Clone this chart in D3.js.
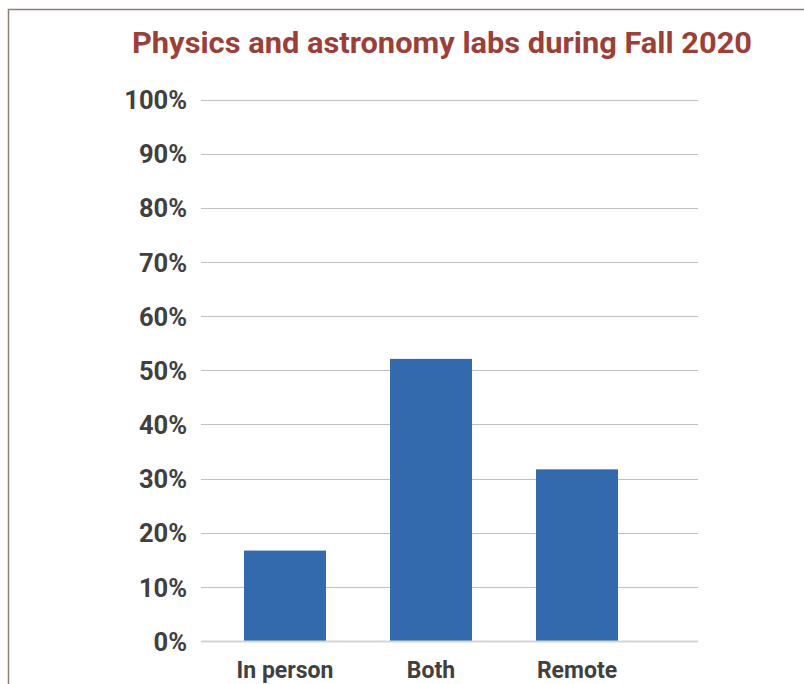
<!DOCTYPE html>
<html>
<head>
<meta charset="utf-8">
<script src="https://cdn.jsdelivr.net/npm/d3@7"></script>
<style>
  html, body { margin: 0; padding: 0; background: #fff; }
  svg { display: block; }
</style>
</head>
<body>
<svg id="chart" width="804" height="684"></svg>
<script>
// Lab delivery mode shares, Fall 2020
const categories = ["In person", "Both", "Remote"];
const shares = [16.7, 52.1, 31.7];
const tickValues = [0, 10, 20, 30, 40, 50, 60, 70, 80, 90, 100];
const tickLabels = ["0%", "10%", "20%", "30%", "40%", "50%", "60%", "70%", "80%", "90%", "100%"];
const title = "Physics and astronomy labs during Fall 2020";

const svg = d3.select("#chart");
const font = "Roboto, 'Liberation Sans', Arial, sans-serif";

// frame lines (top and left)
svg.append("path")
  .attr("d", "M8.5,684 L8.5,9.5 L804,9.5")
  .attr("fill", "none")
  .attr("stroke", "#8e7d72")
  .attr("stroke-width", 1.5);

const gridLeft = 201, gridRight = 698;
const y = d3.scaleLinear().domain([0, 100]).range([641, 99.5]);
const x = d3.scaleBand().domain(categories).range([212, 650])
  .paddingInner(0.4384).paddingOuter(0.2192);

// gridlines
const grid = svg.append("g");
grid.selectAll("line").data(tickValues.filter(d => d > 0)).join("line")
  .attr("x1", gridLeft).attr("x2", gridRight)
  .attr("y1", d => Math.round(y(d)) + 0.5).attr("y2", d => Math.round(y(d)) + 0.5)
  .attr("stroke", "#bfbfbf").attr("stroke-width", 1);

// bars
svg.append("g").selectAll("rect").data(categories).join("rect")
  .attr("x", d => x(d))
  .attr("width", x.bandwidth())
  .attr("y", (d, i) => y(shares[i]))
  .attr("height", (d, i) => y(0) - y(shares[i]))
  .attr("fill", "#336aad");

// baseline
svg.append("line")
  .attr("x1", gridLeft).attr("x2", gridRight)
  .attr("y1", y(0) + 0.5).attr("y2", y(0) + 0.5)
  .attr("stroke", "#d4d4d4").attr("stroke-width", 2);

// y axis labels
const yAxis = d3.axisLeft(y).tickValues(tickValues)
  .tickFormat((d, i) => tickLabels[i]).tickSize(0).tickPadding(0);
const yg = svg.append("g").attr("transform", "translate(187,0)").call(yAxis);
yg.select(".domain").remove();
yg.selectAll("text")
  .attr("font-family", font).attr("font-size", 25.5).attr("font-weight", 700)
  .attr("fill", "#404040").attr("dy", "0.36em");

// x axis labels
const xAxis = d3.axisBottom(x).tickSize(0).tickPadding(0);
const xg = svg.append("g").attr("transform", "translate(0,678)").call(xAxis);
xg.select(".domain").remove();
xg.selectAll("text")
  .attr("font-family", font).attr("font-size", 23).attr("font-weight", 700)
  .attr("fill", "#404040").attr("dy", 0);

// title
svg.append("text")
  .attr("x", 442).attr("y", 53)
  .attr("text-anchor", "middle")
  .attr("font-family", font).attr("font-size", 29.5).attr("font-weight", 700)
  .attr("textLength", 620).attr("lengthAdjust", "spacingAndGlyphs")
  .attr("fill", "#9a4038")
  .text(title);
</script>
</body>
</html>
